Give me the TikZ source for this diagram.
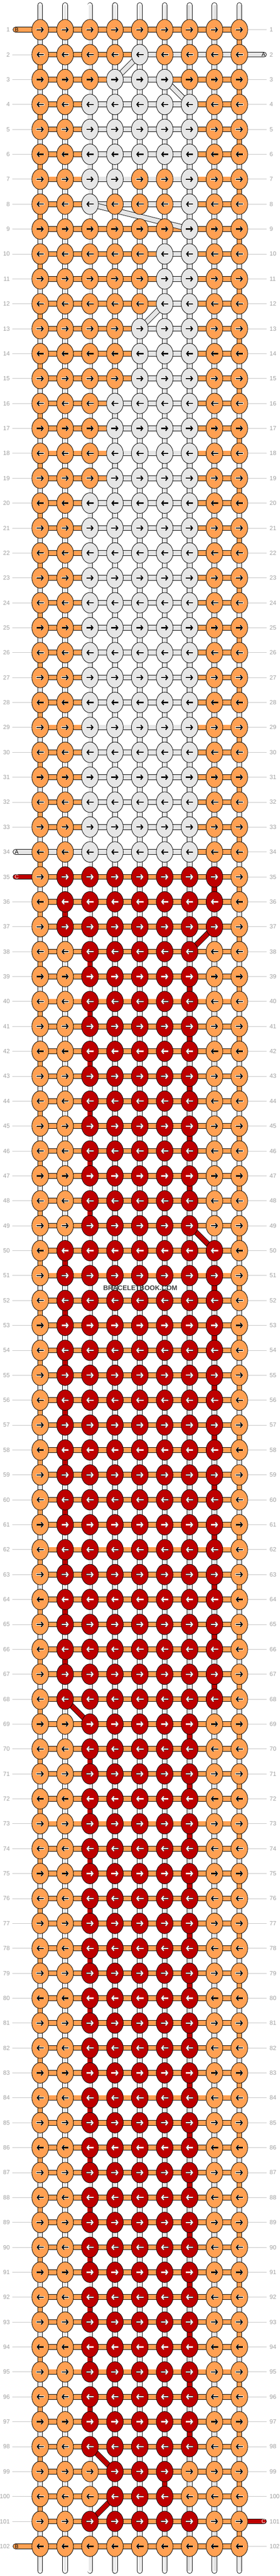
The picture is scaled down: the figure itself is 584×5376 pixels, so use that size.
\documentclass[tikz,border=0pt]{standalone}
\usepackage{fontspec}
\setmainfont{Liberation Sans}
\usetikzlibrary{arrows.meta,shapes.geometric}
\definecolor{bor}{HTML}{FFA052}
\definecolor{bgr}{HTML}{E6E6E6}
\definecolor{bred}{HTML}{BE0000}
\definecolor{lbl}{HTML}{A0A0A0}
\definecolor{lln}{HTML}{C4C4C4}
\definecolor{wgr}{HTML}{D0D0D0}
\definecolor{wmc}{HTML}{404040}
\newcommand\strand[2]{\draw[line width=11.4pt,black] #2; \draw[line width=9.4pt,#1] #2;}
\newcommand\tailstrand[2]{\draw[line width=11.4pt,black,line cap=round] #2; \draw[line width=9.4pt,#1,line cap=round] #2;}
\tikzset{
 knot/.style={ellipse, draw=black, line width=0.9pt, minimum width=35pt, minimum height=43pt, inner sep=0pt},
 karrow/.style={line width=2.4pt, -{Straight Barb[length=4pt,width=10pt]}},
 khalo/.style={line width=3.8pt, -{Straight Barb[length=4pt,width=10pt]}},
 rownum/.style={text=lbl, font=\fontsize{12.5}{14}\selectfont, inner sep=0pt},
 rowline/.style={draw=lln, line width=0.9pt},
 taillbl/.style={font=\fontsize{11.5}{13}\selectfont, inner sep=0pt},
}
\newcommand\knotrow[7]{%
 \foreach \c in {1,...,9}{%
  \def\kc{bor}\def\kac{black}\def\khc{white}%
  \ifnum\c<#2\relax\else\ifnum\c>#3\relax\else\def\kc{#6}\def\kac{#7}\fi\fi
  \ifnum\c<#4\relax\else\ifnum\c>#5\relax\else\def\kc{bor}\def\kac{black}\fi\fi
  \ifx\kac\kblack\def\khc{white}\else\def\khc{black!80}\fi
  \node[knot, fill=\kc] (n-#1-\c) at (k-#1-\c) {};
  \ifodd#1\relax
   \draw[khalo, \khc] ([xshift=-8.2pt]n-#1-\c.center) -- ([xshift=8.2pt]n-#1-\c.center);
   \draw[karrow, \kac] ([xshift=-7.5pt]n-#1-\c.center) -- ([xshift=7.5pt]n-#1-\c.center);
  \else
   \draw[khalo, \khc] ([xshift=8.2pt]n-#1-\c.center) -- ([xshift=-8.2pt]n-#1-\c.center);
   \draw[karrow, \kac] ([xshift=7.5pt]n-#1-\c.center) -- ([xshift=-7.5pt]n-#1-\c.center);
  \fi
 }%
}
\def\kblack{black}
\begin{document}
\begin{tikzpicture}[x=1pt,y=-1pt]
\useasboundingbox (0,0) rectangle (584,5376);
\fill[white] (0,0) rectangle (584,5376);
% knot positions
\foreach \r in {1,...,102}{\foreach \c in {1,...,9}{\coordinate (k-\r-\c) at ({32+52*\c},{10+52*\r});}}
% tail end points
\foreach \r in {1,34,35,102}{\coordinate (tl-\r) at (32.4,{10+52*\r});}
\foreach \r in {2,101}{\coordinate (tr-\r) at (551.3,{10+52*\r});}
% warp strings
\foreach \c in {1,...,9}{
 \coordinate (wt-\c) at ({32+52*\c},10.7);
 \coordinate (wb-\c) at ({32+52*\c},5365.3);
 \tailstrand{white}{(wt-\c) -- (wb-\c)}
 \draw[wgr, line width=4pt] (wt-\c) -- (wb-\c);
 \draw[white, line width=1.6pt] (wt-\c) -- (wb-\c);
}
% string B turning at the edges
\foreach \r [evaluate=\r as \rr using int(\r+1)] in {1,...,101}{
 \ifodd\r\relax \strand{bor}{(k-\r-9) -- (k-\rr-9)}\else \strand{bor}{(k-\r-1) -- (k-\rr-1)}\fi
}
% C tails (under B)
\tailstrand{bred}{(tl-35) -- (k-35-2)}
\tailstrand{bred}{(k-101-7) -- (tr-101)}
% B rows
\foreach \r in {1,...,102}{\strand{bor}{(k-\r-1) -- (k-\r-9)}}
\tailstrand{bor}{(tl-1) -- (k-1-1)}
\tailstrand{bor}{(tl-102) -- (k-102-1)}
% A rows (over B)
\foreach \r/\a/\b in {3/4/6,4/3/7,5/3/7,6/3/7,7/3/7,8/3/7,10/6/7,11/6/7,12/6/7,13/5/7,14/5/7,15/5/7,16/4/7,17/4/7,18/4/7,19/4/7}{\strand{bgr}{(k-\r-\a) -- (k-\r-\b)}}
\foreach \r in {20,...,33}{\strand{bgr}{(k-\r-3) -- (k-\r-7)}}
\tailstrand{bgr}{(k-2-5) -- (tr-2)}
\tailstrand{bgr}{(tl-34) -- (k-34-7)}
% A between rows
\foreach \r/\a/\b [evaluate=\r as \rr using int(\r+1)] in {2/5/4,3/6/7,4/3/3,6/3/3,8/3/7,10/6/6,12/6/5,14/5/5,16/4/4,18/4/4}{\strand{bgr}{(k-\r-\a) -- (k-\rr-\b)}}
\foreach \r [evaluate=\r as \rr using int(\r+1)] in {5,7,...,33}{\strand{bgr}{(k-\r-7) -- (k-\rr-7)}}
\foreach \r [evaluate=\r as \rr using int(\r+1)] in {20,22,...,32}{\strand{bgr}{(k-\r-3) -- (k-\rr-3)}}
% C between rows
\foreach \r/\a/\b [evaluate=\r as \rr using int(\r+1)] in {35/8/8,36/2/2,37/8/7,49/7/8,68/2/3,98/3/4,99/6/6,100/4/3}{\strand{bred}{(k-\r-\a) -- (k-\rr-\b)}}
\foreach \r [evaluate=\r as \rr using int(\r+1)] in {38,40,...,48,70,72,...,96}{\strand{bred}{(k-\r-3) -- (k-\rr-3)}}
\foreach \r [evaluate=\r as \rr using int(\r+1)] in {39,41,...,47,69,71,...,97}{\strand{bred}{(k-\r-7) -- (k-\rr-7)}}
\foreach \r [evaluate=\r as \rr using int(\r+1)] in {50,52,...,66}{\strand{bred}{(k-\r-2) -- (k-\rr-2)}}
\foreach \r [evaluate=\r as \rr using int(\r+1)] in {51,53,...,67}{\strand{bred}{(k-\r-8) -- (k-\rr-8)}}
% knots
\knotrow{1}{0}{0}{0}{0}{bor}{black}
\knotrow{2}{5}{5}{0}{0}{bgr}{black}
\knotrow{3}{4}{6}{0}{0}{bgr}{black}
\foreach \r in {4,5,6}{\knotrow{\r}{3}{7}{0}{0}{bgr}{black}}
\knotrow{7}{3}{7}{5}{6}{bgr}{black}
\knotrow{8}{3}{7}{4}{6}{bgr}{black}
\knotrow{9}{7}{7}{0}{0}{bgr}{black}
\foreach \r in {10,11,12}{\knotrow{\r}{6}{7}{0}{0}{bgr}{black}}
\foreach \r in {13,14,15}{\knotrow{\r}{5}{7}{0}{0}{bgr}{black}}
\foreach \r in {16,...,19}{\knotrow{\r}{4}{7}{0}{0}{bgr}{black}}
\foreach \r in {20,...,34}{\knotrow{\r}{3}{7}{0}{0}{bgr}{black}}
\foreach \r in {35,36,37}{\knotrow{\r}{2}{8}{0}{0}{bred}{white}}
\foreach \r in {38,...,49}{\knotrow{\r}{3}{7}{0}{0}{bred}{white}}
\foreach \r in {50,...,68}{\knotrow{\r}{2}{8}{0}{0}{bred}{white}}
\foreach \r in {69,...,98}{\knotrow{\r}{3}{7}{0}{0}{bred}{white}}
\foreach \r in {99,100}{\knotrow{\r}{4}{6}{0}{0}{bred}{white}}
\knotrow{101}{3}{7}{0}{0}{bred}{white}
\knotrow{102}{0}{0}{0}{0}{bor}{black}
% tail letters
\node[taillbl] (tb-1) at (35,62) {B};
\node[taillbl] (tb-102) at (35,5314) {B};
\node[taillbl] (ta-34) at (35,1778) {A};
\node[taillbl, text=white] (tc-35) at (35,1830) {C};
\node[taillbl] (ta-2) at (550.5,114) {A};
\node[taillbl, text=white] (tc-101) at (550.5,5262) {C};
% row numbers and leader lines
\foreach \r in {1,...,102}{
 \coordinate (lx-\r) at (26,{10+52*\r});
 \coordinate (rx-\r) at (557,{10+52*\r});
 \node[rownum, anchor=east] (ln-\r) at (20.7,{10+52*\r}) {\r};
 \node[rownum, anchor=west] (rn-\r) at (563,{10+52*\r}) {\r};
 \pgfmathtruncatemacro\hasl{(\r==1)||(\r==34)||(\r==35)||(\r==102)}
 \pgfmathtruncatemacro\hasr{(\r==2)||(\r==101)}
 \ifnum\hasl=0 \draw[rowline] (lx-\r) -- (n-\r-1.west);\fi
 \ifnum\hasr=0 \draw[rowline] (n-\r-9.east) -- (rx-\r);\fi
}
% watermark
\node[font=\bfseries\fontsize{14}{16}\selectfont, text=wmc, inner sep=0pt] (wmk) at (293,2688) {BRACELETBOOK.COM};
\end{tikzpicture}
\end{document}
